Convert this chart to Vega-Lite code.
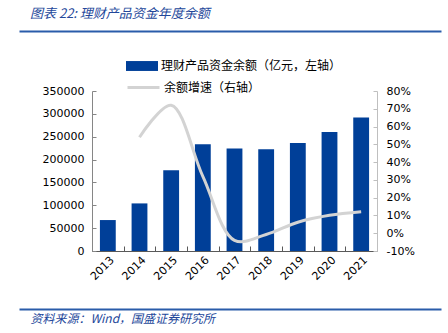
{
  "$schema": "https://vega.github.io/schema/vega-lite/v6.json",
  "width": 285,
  "height": 160,
  "autosize": {"type": "none"},
  "padding": {"left": 92, "top": 91, "right": 71, "bottom": 82},
  "background": "white",
  "title": {
    "text": "图表 22:  理财产品资金年度余额",
    "anchor": "start",
    "frame": "group",
    "dx": -62,
    "offset": 10,
    "font": "Noto Sans CJK SC",
    "fontSize": 13,
    "fontStyle": "italic",
    "fontWeight": "normal",
    "color": "#23479a"
  },
  "config": {
    "view": {"stroke": null},
    "axis": {"labelFont": "DejaVu Sans", "labelFontSize": 11, "labelColor": "#000000", "grid": false},
    "legend": {"labelFont": "Noto Sans CJK SC", "labelFontSize": 12, "labelColor": "#000000", "padding": 0, "labelLimit": 400}
  },
  "data": {
    "values": [
      {"year": "2013", "balance": 67700, "growth": null},
      {"year": "2014", "balance": 104100, "growth": 54},
      {"year": "2015", "balance": 176900, "growth": 72},
      {"year": "2016", "balance": 233600, "growth": 32},
      {"year": "2017", "balance": 224200, "growth": -4},
      {"year": "2018", "balance": 222700, "growth": -0.7},
      {"year": "2019", "balance": 236500, "growth": 6.2},
      {"year": "2020", "balance": 260500, "growth": 10.1},
      {"year": "2021", "balance": 291900, "growth": 12.1}
    ]
  },
  "layer": [
    {
      "encoding": {
        "x": {
          "field": "year",
          "type": "ordinal",
          "scale": {"paddingInner": 0.5, "paddingOuter": 0.25},
          "axis": {
            "orient": "bottom",
            "title": "资料来源：Wind，国盛证券研究所",
            "titleAnchor": "start",
            "titleAlign": "left",
            "titleX": -62,
            "titleY": 71,
            "titleBaseline": "alphabetic",
            "titleFont": "Noto Sans CJK SC",
            "titleFontSize": 12,
            "titleFontStyle": "italic",
            "titleFontWeight": "normal",
            "titleColor": "#23479a",
            "labelAngle": -45,
            "labelPadding": 8,
            "bandPosition": 0.5,
            "tickOffset": -15.83,
            "labelOffset": 15.83,
            "tickSize": -5,
            "tickColor": "#595959",
            "domainColor": "#595959"
          }
        }
      },
      "layer": [
        {
          "mark": {"type": "bar"},
          "encoding": {
            "y": {
              "field": "balance",
              "type": "quantitative",
              "scale": {"domain": [0, 350000]},
              "axis": {
                "title": null,
                "values": [0, 50000, 100000, 150000, 200000, 250000, 300000, 350000],
                "format": "d",
                "tickSize": -4,
                "labelPadding": 12,
                "tickColor": "#868686",
                "domainColor": "#868686"
              }
            },
            "fill": {
              "datum": "理财产品资金余额（亿元，左轴）",
              "scale": {"range": ["#003f98"]},
              "legend": {
                "title": null,
                "orient": "none",
                "legendX": 34,
                "legendY": -41,
                "symbolType": "M-1,-0.31H1V0.31H-1Z",
                "symbolSize": 1024,
                "symbolStrokeWidth": 0,
                "labelOffset": 3
              }
            }
          }
        },
        {
          "transform": [{"filter": "isValid(datum.growth)"}],
          "mark": {"type": "line", "interpolate": "catmull-rom", "strokeWidth": 3},
          "encoding": {
            "y": {
              "field": "growth",
              "type": "quantitative",
              "scale": {"domain": [-10, 80]},
              "axis": {
                "title": null,
                "orient": "right",
                "values": [-10, 0, 10, 20, 30, 40, 50, 60, 70, 80],
                "labelExpr": "datum.value + '%'",
                "tickSize": -4,
                "labelPadding": 13,
                "tickColor": "#bfbfbf",
                "domainColor": "#bfbfbf"
              }
            },
            "stroke": {
              "datum": "余额增速（右轴）",
              "scale": {"range": ["#d3d3d3"]},
              "legend": {
                "title": null,
                "orient": "none",
                "legendX": 34,
                "legendY": -21,
                "symbolType": "stroke",
                "symbolSize": 1024,
                "symbolStrokeWidth": 3,
                "labelOffset": 3
              }
            }
          }
        }
      ],
      "resolve": {"scale": {"y": "independent"}}
    },
    {
      "mark": {"type": "point", "opacity": 0},
      "encoding": {
        "x": {
          "datum": 0,
          "type": "quantitative",
          "scale": {"domain": [0, 1], "range": [-73, 349]},
          "axis": {"orient": "top", "offset": 60, "title": null, "labels": false, "ticks": false, "domainColor": "#2a5caa", "domainWidth": 2}
        }
      }
    },
    {
      "mark": {"type": "point", "opacity": 0},
      "encoding": {
        "x": {
          "datum": 0,
          "type": "quantitative",
          "scale": {"domain": [0, 1], "range": [-73, 349]},
          "axis": {"orient": "bottom", "offset": 58, "title": null, "labels": false, "ticks": false, "domainColor": "#2a5caa", "domainWidth": 2}
        }
      }
    }
  ],
  "resolve": {"scale": {"x": "independent", "y": "independent"}, "axis": {"x": "independent"}}
}
